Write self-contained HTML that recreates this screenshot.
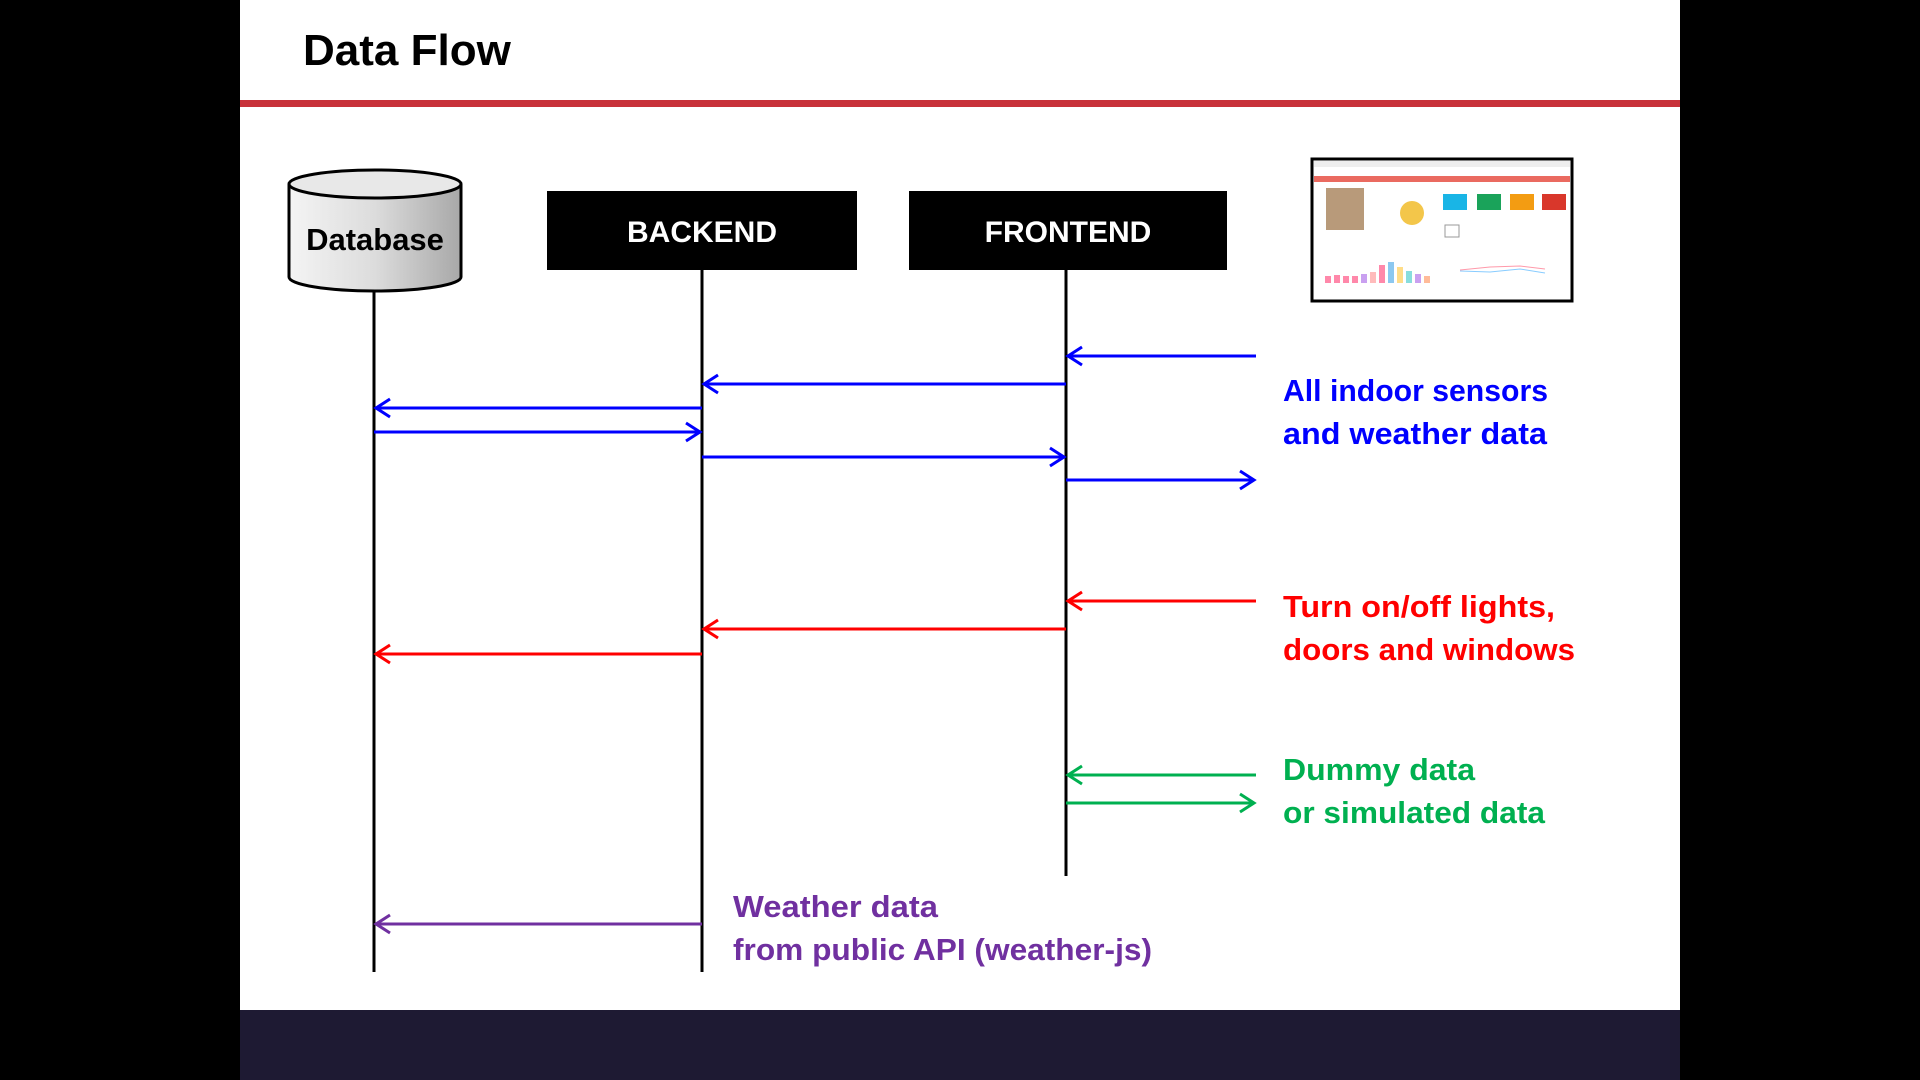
<!DOCTYPE html>
<html><head><meta charset="utf-8"><style>
html,body{margin:0;padding:0;background:#000;}
body{width:1920px;height:1080px;position:relative;overflow:hidden;font-family:"Liberation Sans",sans-serif;}
</style></head><body>
<svg width="1920" height="1080" viewBox="0 0 1920 1080" xmlns="http://www.w3.org/2000/svg" style="position:absolute;left:0;top:0">
<defs>
<linearGradient id="cyl" x1="0" x2="1" y1="0" y2="0">
<stop offset="0" stop-color="#f4f4f4"/><stop offset="0.5" stop-color="#dcdcdc"/><stop offset="1" stop-color="#a8a8a8"/>
</linearGradient>
</defs>
<rect x="0" y="0" width="1920" height="1080" fill="#000"/>
<rect x="240" y="0" width="1440" height="1010" fill="#fff"/>
<rect x="240" y="1010" width="1440" height="70" fill="#1e1a33"/>
<text x="303" y="65" font-family="Liberation Sans, sans-serif" font-weight="bold" font-size="44" fill="#000">Data Flow</text>
<rect x="240" y="100" width="1440" height="7" fill="#c8323a"/>

<path d="M289,184 L289,277 A86,14 0 0 0 461,277 L461,184" fill="url(#cyl)" stroke="#000" stroke-width="3"/>
<ellipse cx="375" cy="184" rx="86" ry="14" fill="#e8e8e8" stroke="#000" stroke-width="3"/>
<text x="375" y="250" text-anchor="middle" font-family="Liberation Sans, sans-serif" font-weight="bold" font-size="31" fill="#000">Database</text>

<rect x="547" y="191" width="310" height="79" fill="#000"/>
<text x="702" y="242" text-anchor="middle" font-family="Liberation Sans, sans-serif" font-weight="bold" font-size="30" fill="#fff">BACKEND</text>
<rect x="909" y="191" width="318" height="79" fill="#000"/>
<text x="1068" y="242" text-anchor="middle" font-family="Liberation Sans, sans-serif" font-weight="bold" font-size="30" fill="#fff">FRONTEND</text>

<line x1="374" y1="291" x2="374" y2="972" stroke="#000" stroke-width="3"/>
<line x1="702" y1="270" x2="702" y2="972" stroke="#000" stroke-width="3"/>
<line x1="1066" y1="270" x2="1066" y2="876" stroke="#000" stroke-width="3"/>

<g fill="none" stroke-width="3">
<g stroke="#0000ff">
<line x1="1256" y1="356" x2="1068" y2="356"/><polyline points="1082,347 1068,356 1082,365"/>
<line x1="1066" y1="384" x2="704" y2="384"/><polyline points="718,375 704,384 718,393"/>
<line x1="702" y1="408" x2="376" y2="408"/><polyline points="390,399 376,408 390,417"/>
<line x1="374" y1="432" x2="700" y2="432"/><polyline points="686,423 700,432 686,441"/>
<line x1="702" y1="457" x2="1064" y2="457"/><polyline points="1050,448 1064,457 1050,466"/>
<line x1="1066" y1="480" x2="1254" y2="480"/><polyline points="1240,471 1254,480 1240,489"/>
</g>
<g stroke="#ff0000">
<line x1="1256" y1="601" x2="1068" y2="601"/><polyline points="1082,592 1068,601 1082,610"/>
<line x1="1066" y1="629" x2="704" y2="629"/><polyline points="718,620 704,629 718,638"/>
<line x1="702" y1="654" x2="376" y2="654"/><polyline points="390,645 376,654 390,663"/>
</g>
<g stroke="#00b050">
<line x1="1256" y1="775" x2="1068" y2="775"/><polyline points="1082,766 1068,775 1082,784"/>
<line x1="1066" y1="803" x2="1254" y2="803"/><polyline points="1240,794 1254,803 1240,812"/>
</g>
<g stroke="#7030a0">
<line x1="702" y1="924" x2="376" y2="924"/><polyline points="390,915 376,924 390,933"/>
</g>
</g>

<g font-family="Liberation Sans, sans-serif" font-weight="bold" font-size="31">
<text x="1283" y="401" fill="#0000ff" textLength="265" lengthAdjust="spacingAndGlyphs">All indoor sensors</text>
<text x="1283" y="444" fill="#0000ff" textLength="264" lengthAdjust="spacingAndGlyphs">and weather data</text>
<text x="1283" y="617" fill="#ff0000" textLength="272" lengthAdjust="spacingAndGlyphs">Turn on/off lights,</text>
<text x="1283" y="660" fill="#ff0000" textLength="292" lengthAdjust="spacingAndGlyphs">doors and windows</text>
<text x="1283" y="780" fill="#00b050" textLength="192" lengthAdjust="spacingAndGlyphs">Dummy data</text>
<text x="1283" y="823" fill="#00b050" textLength="262" lengthAdjust="spacingAndGlyphs">or simulated data</text>
<text x="733" y="917" fill="#7030a0" textLength="205" lengthAdjust="spacingAndGlyphs">Weather data</text>
<text x="733" y="960" fill="#7030a0" textLength="419" lengthAdjust="spacingAndGlyphs">from public API (weather-js)</text>
</g>

<rect x="1312" y="159" width="260" height="142" fill="#fff" stroke="#000" stroke-width="3"/>
<rect x="1314" y="161" width="256" height="6" fill="#eee"/>
<rect x="1314" y="176" width="256" height="6" fill="#ea6a60"/>
<rect x="1326" y="188" width="38" height="42" fill="#b89a7a"/>
<circle cx="1412" cy="213" r="12" fill="#f3c64a"/>
<rect x="1443" y="194" width="24" height="16" fill="#19b5e6"/>
<rect x="1477" y="194" width="24" height="16" fill="#1aa35a"/>
<rect x="1510" y="194" width="24" height="16" fill="#f39c12"/>
<rect x="1542" y="194" width="24" height="16" fill="#d9372b"/>
<rect x="1445" y="225" width="14" height="12" fill="none" stroke="#999" stroke-width="1"/>
<g fill="#f8a"><rect x="1325" y="276" width="6" height="7"/><rect x="1334" y="275" width="6" height="8"/><rect x="1343" y="276" width="6" height="7"/><rect x="1352" y="276" width="6" height="7"/><rect x="1361" y="274" width="6" height="9" fill="#c9a0f0"/><rect x="1370" y="272" width="6" height="11" fill="#fbb"/><rect x="1379" y="265" width="6" height="18"/><rect x="1388" y="262" width="6" height="21" fill="#8cc8f0"/><rect x="1397" y="267" width="6" height="16" fill="#fd8"/><rect x="1406" y="271" width="6" height="12" fill="#8dd"/><rect x="1415" y="274" width="6" height="9" fill="#c9a0f0"/><rect x="1424" y="276" width="6" height="7" fill="#fb9"/></g>
<polyline points="1460,270 1490,267 1520,266 1545,269" fill="none" stroke="#f9a" stroke-width="1"/>
<polyline points="1460,271 1490,272 1520,269 1545,273" fill="none" stroke="#8cf" stroke-width="1"/>
</svg>
</body></html>
